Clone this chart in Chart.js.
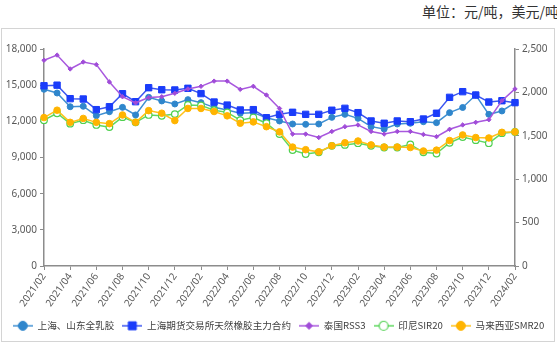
<!DOCTYPE html>
<html><head><meta charset="utf-8">
<script src="https://cdn.jsdelivr.net/npm/chart.js@4"></script>
<style>
html,body{margin:0;padding:0;background:#fff;}
#wrap{position:relative;width:557px;height:345px;overflow:hidden;}
#box{position:absolute;left:1px;top:28px;width:554px;height:314px;border:1px solid #d4d4d4;box-sizing:border-box;}
#unit{position:absolute;left:422px;top:1px;font:14px 'Noto Sans CJK SC';color:#333;white-space:nowrap;}
canvas{position:absolute;left:0;top:0;}
</style></head>
<body><div id="wrap"><div id="box"></div><div id="unit">单位：元/吨，美元/吨</div><canvas id="c" width="557" height="345"></canvas></div>
<script>
const months = ['2021/02','2021/03','2021/04','2021/05','2021/06','2021/07','2021/08','2021/09','2021/10','2021/11','2021/12',
  '2022/01','2022/02','2022/03','2022/04','2022/05','2022/06','2022/07','2022/08','2022/09','2022/10','2022/11','2022/12',
  '2023/01','2023/02','2023/03','2023/04','2023/05','2023/06','2023/07','2023/08','2023/09','2023/10','2023/11','2023/12',
  '2024/01','2024/02'];
const shLatex = [14660,14350,13210,13250,12470,12800,13160,12530,13990,13690,13440,13800,13550,13160,12940,12670,12720,12300,12030,11780,11750,11780,12330,12580,12250,11560,11360,11780,11840,11970,11890,12720,13150,14180,12580,12860,13550];
const shfe = [14950,15000,13880,13850,12970,13210,14290,13630,14790,14620,14600,14740,14300,13600,13350,12940,12970,12300,12580,12750,12580,12580,12920,13080,12720,12030,11840,12030,11970,12190,12670,13990,14460,14180,13600,13710,13550];
const rss3 = [2370,2430,2270,2350,2320,2120,1950,1880,1940,1950,1990,2040,2070,2130,2130,2035,2070,1970,1815,1520,1520,1480,1550,1605,1625,1550,1520,1550,1550,1515,1490,1575,1625,1655,1685,1905,2040];
const sir20 = [1680,1760,1640,1680,1625,1600,1715,1655,1740,1730,1750,1855,1850,1795,1770,1680,1710,1645,1520,1335,1290,1310,1385,1395,1415,1385,1365,1365,1400,1310,1295,1420,1485,1450,1415,1530,1545];
const smr20 = [1710,1795,1655,1700,1655,1640,1740,1655,1790,1760,1675,1815,1815,1780,1730,1645,1660,1605,1545,1370,1340,1315,1385,1420,1440,1395,1370,1370,1365,1325,1335,1445,1510,1480,1475,1540,1545];
const seriesNames = ['上海、山东全乳胶','上海期货交易所天然橡胶主力合约','泰国RSS3','印尼SIR20','马来西亚SMR20'];
const leftTicksMax = 18000, leftStep = 3000, rightTicksMax = 2500, rightStep = 500;

const axisColor = '#8c8c8c';
const tickFont = {family:"'Noto Sans', 'Noto Sans CJK SC', sans-serif", size:10};
const ICON_W = 20;

function legendIcon(ds){
  const cv = document.createElement('canvas');
  cv.width = ICON_W; cv.height = 12;
  const g = cv.getContext('2d');
  const c = ICON_W/2;
  g.strokeStyle = ds.borderColor; g.lineWidth = 1.5;
  g.beginPath(); g.moveTo(0,6); g.lineTo(ICON_W,6); g.stroke();
  g.fillStyle = ds.pointBackgroundColor;
  g.strokeStyle = ds.pointBorderColor; g.lineWidth = ds.pointBorderWidth;
  const r = ds.legendR;
  g.beginPath();
  if (ds.pointStyle === 'rect') { g.rect(c-r, 6-r, 2*r, 2*r); }
  else if (ds.pointStyle === 'rectRot') { g.moveTo(c,6-r); g.lineTo(c+r,6); g.lineTo(c,6+r); g.lineTo(c-r,6); g.closePath(); }
  else { g.arc(c,6,r,0,Math.PI*2); }
  g.fill(); g.stroke();
  return cv;
}

const datasets = [
  {label:seriesNames[0], data:shLatex, yAxisID:'yL', borderColor:'#3f8fd2', pointBackgroundColor:'#2f86cc', pointBorderColor:'#2f86cc',
   pointStyle:'circle', pointRadius:3, pointBorderWidth:1, legendR:4.5, order:5},
  {label:seriesNames[1], data:shfe, yAxisID:'yL', borderColor:'#3a55f0', pointBackgroundColor:'#1a3cfa', pointBorderColor:'#1a3cfa',
   pointStyle:'rect', pointRadius:4.5, pointBorderWidth:1, legendR:4, order:4},
  {label:seriesNames[2], data:rss3, yAxisID:'yR', borderColor:'#a858de', pointBackgroundColor:'#a04cd8', pointBorderColor:'#a04cd8',
   pointStyle:'rectRot', pointRadius:2.2, pointBorderWidth:1, legendR:3.5, order:3},
  {label:seriesNames[3], data:sir20, yAxisID:'yR', borderColor:'#5fd85f', pointBackgroundColor:'#ffffff', pointBorderColor:'#4fd04f',
   pointStyle:'circle', pointRadius:3.3, pointBorderWidth:1.2, legendR:4.5, order:2},
  {label:seriesNames[4], data:smr20, yAxisID:'yR', borderColor:'#ffc21a', pointBackgroundColor:'#ffb400', pointBorderColor:'#ffb400',
   pointStyle:'circle', pointRadius:3.3, pointBorderWidth:1, legendR:4.5, order:1}
];
datasets.forEach(d => { d.borderWidth = 1.5; d.tension = 0; d.fill = false; d.pointHoverRadius = d.pointRadius; });

new Chart(document.getElementById('c'), {
  type:'line',
  data:{labels:months, datasets},
  options:{
    responsive:false, animation:false, devicePixelRatio:1,
    layout:{padding:{left:0,right:0,top:49,bottom:4.4}},
    plugins:{
      tooltip:{enabled:false},
      legend:{
        position:'bottom',
        labels:{
          usePointStyle:true, pointStyleWidth:ICON_W, padding:8, color:'#404040',
          font:{family:"'Noto Sans CJK SC', sans-serif", size:9.6},
          generateLabels:(chart)=>chart.data.datasets.map((d,i)=>({
            text:d.label, pointStyle:legendIcon(d), fillStyle:d.borderColor, strokeStyle:d.borderColor,
            lineWidth:0, hidden:false, datasetIndex:i, fontColor:'#404040'
          }))
        }
      }
    },
    scales:{
      x:{
        type:'category', offset:false,
        border:{display:true, color:axisColor, width:1.5},
        grid:{drawOnChartArea:false, drawTicks:true, tickLength:4, color:(ctx)=> (ctx.index % 2 ? 'rgba(0,0,0,0)' : axisColor)},
        ticks:{autoSkip:false, minRotation:55, maxRotation:55, padding:1, color:'#595959', font:tickFont,
          callback:(v,i)=> (i % 2 === 0 ? months[i] : '')},
        afterFit:(s)=>{ s.height = 47; }
      },
      yL:{
        position:'left', min:0, max:leftTicksMax,
        border:{display:true, color:axisColor, width:1.5},
        grid:{drawOnChartArea:false, drawTicks:true, tickLength:4, color:axisColor},
        ticks:{stepSize:leftStep, padding:3, color:'#595959', font:tickFont},
        afterFit:(s)=>{ s.width = 44; }
      },
      yR:{
        position:'right', min:0, max:rightTicksMax,
        border:{display:true, color:axisColor, width:1.5},
        grid:{drawOnChartArea:false, drawTicks:true, tickLength:4, color:axisColor},
        ticks:{stepSize:rightStep, padding:3, color:'#595959', font:tickFont},
        afterFit:(s)=>{ s.width = 42; }
      }
    }
  }
});
</script>
</body></html>
